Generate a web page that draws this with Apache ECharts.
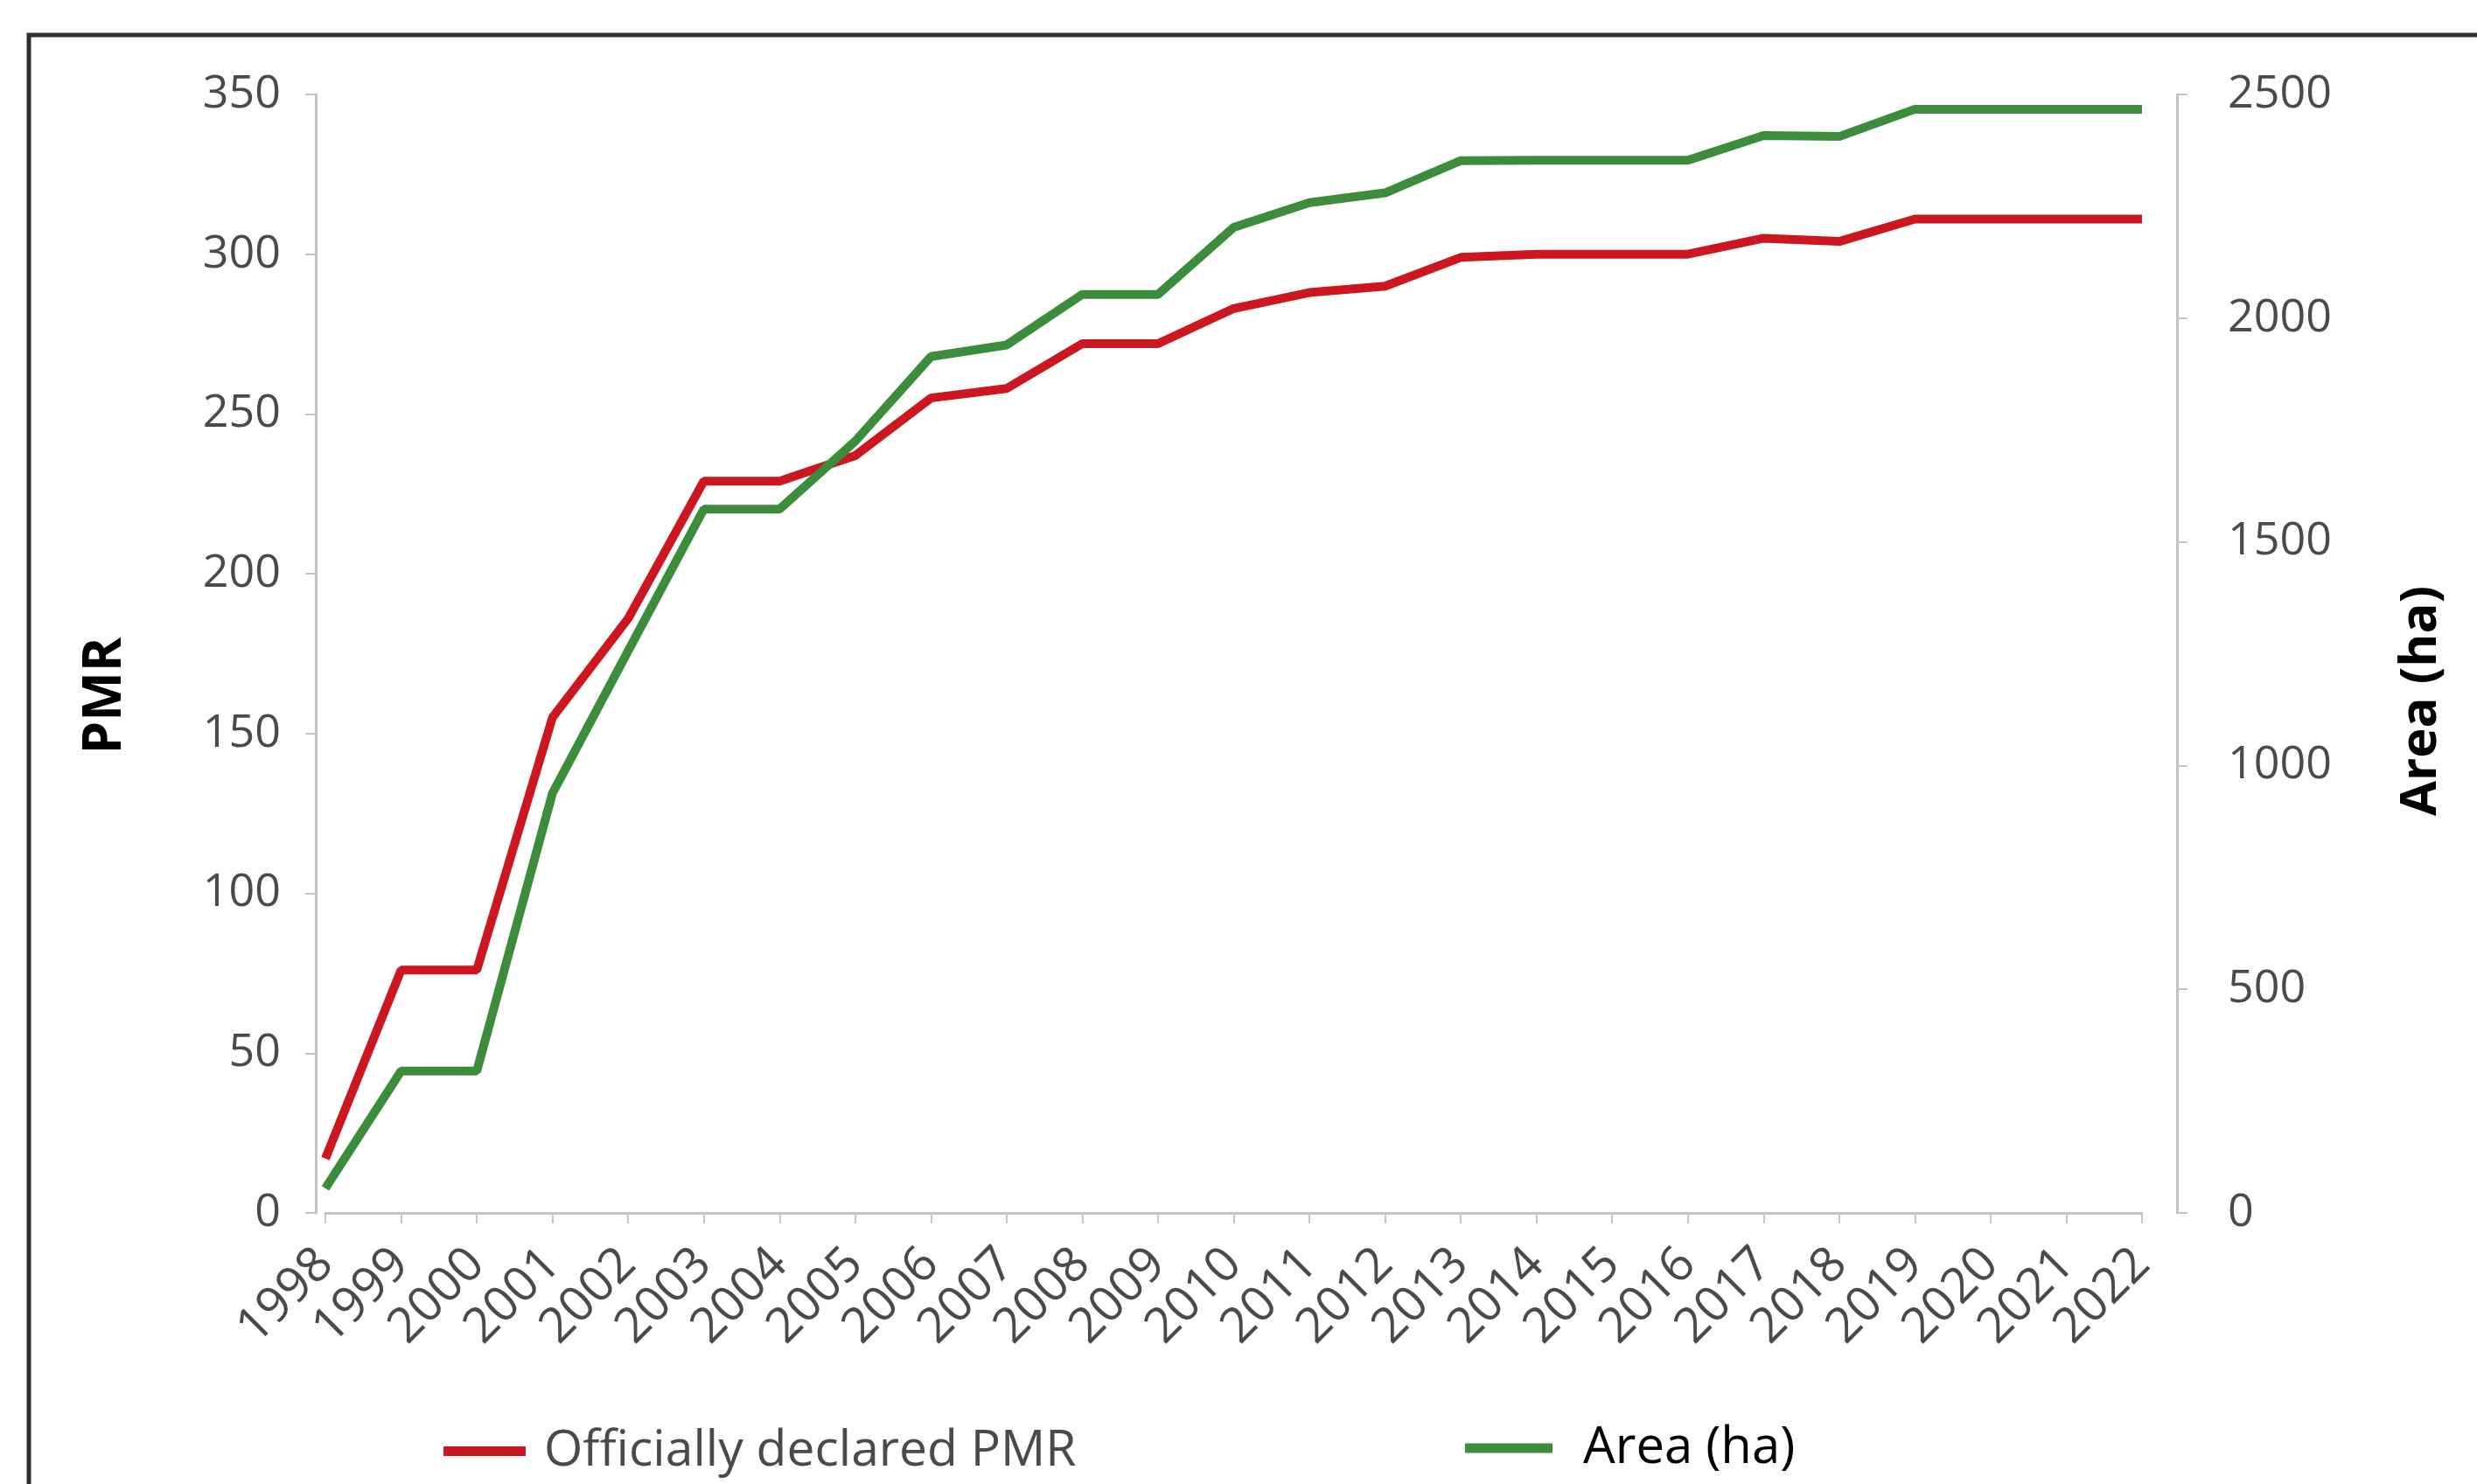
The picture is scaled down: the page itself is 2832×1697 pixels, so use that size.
<!DOCTYPE html>
<html>
<head>
<meta charset="utf-8">
<script src="https://cdn.jsdelivr.net/npm/echarts@6/dist/echarts.min.js"></script>
<style>
  html, body { margin: 0; padding: 0; background: #fff; }
  #chart { width: 2832px; height: 1697px; }
</style>
</head>
<body>
<div id="chart"></div>
<script>
// años del eje X
const years = ['1998', '1999', '2000', '2001', '2002', '2003', '2004', '2005', '2006',
  '2007', '2008', '2009', '2010', '2011', '2012', '2013', '2014', '2015', '2016',
  '2017', '2018', '2019', '2020', '2021', '2022'];

// PMR declarados (eje izquierdo)
const pmrValues = [17, 76, 76, 155, 186, 229, 229, 237, 255, 258, 272, 272, 283, 288,
  290, 299, 300, 300, 300, 305, 304, 311, 311, 311, 311];

// superficie en ha (eje derecho)
const areaValues = [55, 317, 317, 938, 1256, 1573, 1573, 1725, 1914, 1940, 2053, 2053,
  2203, 2258, 2280, 2352, 2353, 2353, 2353, 2408, 2406, 2467, 2467, 2467, 2467];

const pmrName = 'Officially declared PMR';
const areaName = 'Area (ha)';

const gris = '#4a4a4a';
const ejeColor = '#c4c4c4';
const rojo = '#cc1620';
const verde = '#3b8c3b';

const chart = echarts.init(document.getElementById('chart'));

const option = {
  backgroundColor: '#fff',
  animation: false,
  textStyle: { fontFamily: 'Open Sans' },
  grid: { left: 372, right: 383, top: 108, bottom: 310, containLabel: false },
  graphic: [{
    type: 'polyline',
    shape: { points: [[33, 1720], [33, 40], [2860, 40]] },
    style: { stroke: '#2e2e2e', lineWidth: 5, fill: null }
  }],
  legend: [{
    left: 502, top: 1626,
    itemWidth: 94, itemHeight: 11,
    icon: 'rect',
    data: [{ name: pmrName, textStyle: { color: gris, fontSize: 57, fontFamily: 'Open Sans', padding: [0, 0, 0, 16] } }]
  }, {
    left: 1670, top: 1622,
    itemWidth: 100, itemHeight: 11,
    icon: 'rect',
    data: [{ name: areaName, textStyle: { color: '#000', fontSize: 58, fontFamily: 'Open Sans', padding: [0, 0, 0, 30] } }]
  }],
  xAxis: {
    type: 'category',
    data: years,
    boundaryGap: false,
    axisLine: { lineStyle: { color: ejeColor, width: 3 } },
    axisTick: { alignWithLabel: true, length: 12, lineStyle: { color: ejeColor, width: 2 } },
    axisLabel: { rotate: 45, color: gris, fontSize: 56, margin: 50, interval: 0 },
    splitLine: { show: false }
  },
  yAxis: [{
    type: 'value',
    min: 0, max: 350, interval: 50,
    offset: 11,
    name: 'PMR',
    nameLocation: 'middle',
    nameRotate: 90,
    nameGap: 210,
    nameTextStyle: { color: '#000', fontSize: 60, fontWeight: 'bold', fontFamily: 'Open Sans', padding: [0, 96, 0, 0] },
    axisLine: { show: true, lineStyle: { color: ejeColor, width: 3 } },
    axisTick: { show: true, length: 12, lineStyle: { color: ejeColor, width: 2 } },
    axisLabel: { color: gris, fontSize: 52, margin: 40 },
    splitLine: { show: false }
  }, {
    type: 'value',
    min: 0, max: 2500, interval: 500,
    offset: 40,
    name: 'Area (ha)',
    nameLocation: 'middle',
    nameRotate: 90,
    nameGap: 250,
    nameTextStyle: { color: '#000', fontSize: 58, fontWeight: 'bold', fontFamily: 'Open Sans', padding: [0, 108, 0, 0] },
    axisLine: { show: true, lineStyle: { color: ejeColor, width: 3 } },
    axisTick: { show: true, length: 12, lineStyle: { color: ejeColor, width: 2 } },
    axisLabel: { color: gris, fontSize: 52, margin: 58, formatter: v => String(v) },
    splitLine: { show: false }
  }],
  series: [{
    name: pmrName,
    type: 'line',
    yAxisIndex: 0,
    data: pmrValues,
    showSymbol: false,
    symbol: 'none',
    color: rojo,
    lineStyle: { color: rojo, width: 10 }
  }, {
    name: areaName,
    type: 'line',
    yAxisIndex: 1,
    data: areaValues,
    showSymbol: false,
    symbol: 'none',
    color: verde,
    lineStyle: { color: verde, width: 10 }
  }]
};

chart.setOption(option);
window.addEventListener('resize', () => chart.resize());
</script>
</body>
</html>
